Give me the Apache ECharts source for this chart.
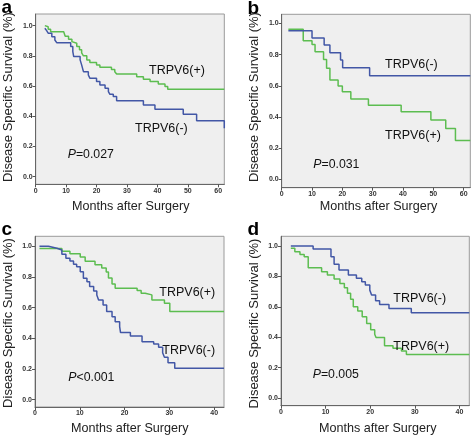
<!DOCTYPE html>
<html><head><meta charset="utf-8">
<script src="https://cdn.jsdelivr.net/npm/echarts@6/dist/echarts.min.js"></script>
<style>html,body{margin:0;padding:0;background:#fff}#c{width:472px;height:437px}</style>
</head><body><div id="c"></div>
<script>
// ---- data (Kaplan-Meier step points: time in months, survival) ----
const aPosTime = [3, 3.6, 4.1, 4.9, 9.2, 9.7, 10.8, 11.9, 12.4, 13.5, 14.4, 15.1, 15.7, 16.8, 17.8, 20, 21.1, 24.9, 26, 26.6, 33.2, 35.4, 37.6, 40.3, 42.5, 43.4, 62];
const aPosSurv = [1.0, 0.993, 0.976, 0.96, 0.95, 0.93, 0.91, 0.894, 0.883, 0.861, 0.84, 0.82, 0.80, 0.773, 0.755, 0.74, 0.724, 0.71, 0.695, 0.68, 0.662, 0.645, 0.63, 0.614, 0.596, 0.579, 0.579];
const aNegTime = [3, 3.6, 4.1, 5.3, 6.3, 6.9, 11.5, 12.2, 12.5, 14.6, 15.1, 15.7, 17.3, 17.8, 20, 21.1, 22.8, 23.9, 24.4, 25.5, 26.6, 35.4, 39.2, 48.5, 52.9, 62];
const aNegSurv = [0.983, 0.967, 0.95, 0.927, 0.905, 0.887, 0.861, 0.828, 0.795, 0.773, 0.74, 0.695, 0.673, 0.652, 0.63, 0.607, 0.585, 0.563, 0.545, 0.53, 0.503, 0.475, 0.446, 0.413, 0.37, 0.32];

const bNegTime = [2.2, 10, 14, 15.9, 19.4, 20.1, 29, 62.2];
const bNegSurv = [0.953, 0.906, 0.861, 0.812, 0.765, 0.716, 0.665, 0.665];
const bPosTime = [2.2, 7.1, 10, 11, 13.8, 14.8, 15.9, 18.6, 20, 22.8, 28.6, 39.4, 49.2, 54.1, 57.3, 62.2];
const bPosSurv = [0.962, 0.889, 0.865, 0.818, 0.769, 0.712, 0.637, 0.598, 0.562, 0.516, 0.476, 0.434, 0.38, 0.327, 0.25, 0.25];

const cPosTime = [1, 6, 7.8, 10.1, 11.2, 13.4, 14.9, 15.9, 16.4, 17.2, 17.9, 22.8, 23.7, 24.6, 26.1, 28.9, 30.1, 42.2];
const cPosSurv = [0.985, 0.967, 0.952, 0.93, 0.902, 0.88, 0.859, 0.833, 0.793, 0.754, 0.726, 0.711, 0.694, 0.683, 0.65, 0.628, 0.574, 0.574];
const cNegTime = [1, 3, 4.9, 6, 6.9, 7.8, 8.6, 9.3, 10.1, 10.8, 11.6, 12.2, 13.1, 13.8, 14.2, 15.2, 16, 17.2, 17.9, 18.9, 19.1, 21.3, 23.9, 26.5, 27.6, 28.5, 28.9, 29.7, 31.2, 42.2];
const cNegSurv = [1.0, 0.987, 0.976, 0.948, 0.922, 0.904, 0.883, 0.867, 0.834, 0.791, 0.769, 0.737, 0.709, 0.683, 0.65, 0.617, 0.574, 0.541, 0.508, 0.476, 0.437, 0.415, 0.378, 0.363, 0.341, 0.306, 0.276, 0.241, 0.205, 0.205];

const dNegTime = [2.2, 7.2, 11.2, 11.9, 13, 15.1, 16.9, 18.1, 18.9, 19.9, 20.3, 21.2, 22.1, 24.2, 29.2, 42.2];
const dNegSurv = [1.0, 0.98, 0.93, 0.88, 0.842, 0.809, 0.788, 0.765, 0.743, 0.71, 0.678, 0.64, 0.616, 0.59, 0.561, 0.561];
const dPosTime = [2.2, 3.1, 4.25, 5.2, 6.1, 9.1, 10.4, 11.9, 13.2, 14.2, 14.9, 15.6, 16.2, 17.2, 18.2, 19.2, 20.1, 21, 21.3, 23.2, 25.1, 27, 28.1, 42.2];
const dPosSurv = [0.985, 0.962, 0.945, 0.93, 0.857, 0.831, 0.809, 0.783, 0.754, 0.726, 0.689, 0.65, 0.601, 0.572, 0.535, 0.491, 0.45, 0.42, 0.398, 0.345, 0.328, 0.31, 0.287, 0.287];

const yTicks = [0, 0.2, 0.4, 0.6, 0.8, 1.0];
const xTicksLong = [0, 10, 20, 30, 40, 50, 60];
const xTicksShort = [0, 10, 20, 30, 40];

const panelLetters = ['a', 'b', 'c', 'd'];
const pValues = ['=0.027', '=0.031', '<0.001', '=0.005'];
const groupPos = 'TRPV6(+)';
const groupNeg = 'TRPV6(-)';
const yTitle = 'Disease Specific Survival (%)';
const xTitle = 'Months after Surgery';

// ---- layout ----
const FONT = 'Liberation Sans, Arial, sans-serif';
const GREEN = '#5cbd50';
const BLUE = '#4257a6';
const grids = [
  {left: 35.7, top: 14, width: 188.6, height: 170.3},
  {left: 281.7, top: 14.3, width: 188.6, height: 173.4},
  {left: 35, top: 236.3, width: 189, height: 170.7},
  {left: 281, top: 236.3, width: 188.3, height: 169.4}
];
const yRanges = [[-0.051, 1.077], [-0.053, 1.058], [-0.048, 1.065], [-0.05, 1.064]];
const xMax = [62, 62.2, 42.2, 42.2];
const xTickSets = [xTicksLong, xTicksLong, xTicksShort, xTicksShort];

const pairs = (t, s) => t.map((v, i) => [v, s[i]]);
const seriesData = [
  [pairs(aPosTime, aPosSurv), pairs(aNegTime, aNegSurv)],
  [pairs(bPosTime, bPosSurv), pairs(bNegTime, bNegSurv)],
  [pairs(cPosTime, cPosSurv), pairs(cNegTime, cNegSurv)],
  [pairs(dPosTime, dPosSurv), pairs(dNegTime, dNegSurv)]
];

const axisLabelStyle = {fontSize: 7, fontWeight: 'bold', color: '#333', fontFamily: FONT};

const option = {
  animation: false,
  backgroundColor: '#fff',
  grid: grids.map(g => Object.assign({show: true, backgroundColor: '#efefef', borderColor: '#9a9a9a', borderWidth: 1}, g)),
  xAxis: grids.map((g, i) => ({
    type: 'value', gridIndex: i, min: 0, max: xMax[i],
    axisLine: {show: true, onZero: false, lineStyle: {color: '#666', width: 1}},
    axisTick: {show: true, length: 3, lineStyle: {color: '#555'}, customValues: xTickSets[i]},
    axisLabel: Object.assign({margin: 3, customValues: xTickSets[i], formatter: v => String(v)}, axisLabelStyle),
    splitLine: {show: false}
  })),
  yAxis: grids.map((g, i) => ({
    type: 'value', gridIndex: i, min: yRanges[i][0], max: yRanges[i][1],
    axisLine: {show: true, onZero: false, lineStyle: {color: '#666', width: 1}},
    axisTick: {show: true, length: 3, lineStyle: {color: '#555'}, customValues: yTicks},
    axisLabel: Object.assign({margin: 3, customValues: yTicks, formatter: v => v.toFixed(1)}, axisLabelStyle),
    splitLine: {show: false}
  })),
  series: []
};
seriesData.forEach((pair, i) => {
  option.series.push({type: 'line', xAxisIndex: i, yAxisIndex: i, step: 'end', symbol: 'none', data: pair[0],
    lineStyle: {color: GREEN, width: 1.5}, z: 3});
  option.series.push({type: 'line', xAxisIndex: i, yAxisIndex: i, step: 'end', symbol: 'none', data: pair[1],
    lineStyle: {color: BLUE, width: 1.5}, z: 4});
});

// ---- text annotations ----
const txt = (x, y, text, extra) => ({type: 'text', x, y, z: 100,
  style: Object.assign({text, fill: '#111', fontFamily: FONT, fontSize: 12.5, align: 'left', verticalAlign: 'middle'}, extra || {})});
const rich = (x, y, p) => ({type: 'text', x, y, z: 100,
  style: {text: '{i|P}{n|' + p + '}', fontFamily: FONT, verticalAlign: 'middle', align: 'left',
    rich: {i: {fontSize: 12.3, fontStyle: 'italic', fill: '#111', fontFamily: FONT}, n: {fontSize: 12.3, fill: '#111', fontFamily: FONT}}}});

const labelPos = [
  {pos: [149, 71], neg: [135, 128.3], p: [67.7, 155]},
  {pos: [385, 136], neg: [385, 65], p: [313.3, 165]},
  {pos: [159.3, 293], neg: [162.3, 350.7], p: [68.3, 377.3]},
  {pos: [393.3, 346.3], neg: [393.3, 298.7], p: [312.7, 374.7]}
];
const letterPos = [[1.5, 8], [247.5, 8.5], [1.5, 229.5], [247.5, 229.5]];
const yTitlePos = [[8.8, 97], [254, 97], [8, 323], [254, 323.5]];
const xTitlePos = [[130.8, 206.7], [378.5, 206.7], [129.7, 428.7], [377.7, 428.7]];

const graphics = [];
for (let i = 0; i < 4; i++) {
  graphics.push(txt(labelPos[i].pos[0], labelPos[i].pos[1], groupPos));
  graphics.push(txt(labelPos[i].neg[0], labelPos[i].neg[1], groupNeg));
  graphics.push(rich(labelPos[i].p[0], labelPos[i].p[1], pValues[i]));
  graphics.push(txt(letterPos[i][0], letterPos[i][1], panelLetters[i], {fontSize: 19, fontWeight: 'bold', verticalAlign: 'middle', fill: '#000'}));
  graphics.push({type: 'text', x: yTitlePos[i][0], y: yTitlePos[i][1], rotation: Math.PI / 2, z: 100,
    style: {text: yTitle, fontFamily: FONT, fontSize: 13, fill: '#222', align: 'center', verticalAlign: 'middle'}});
  graphics.push(txt(xTitlePos[i][0], xTitlePos[i][1], xTitle, {fontSize: 12.6, align: 'center', fill: '#222'}));
}
option.graphic = graphics;

const chart = echarts.init(document.getElementById('c'), null, {renderer: 'canvas'});
chart.setOption(option);
</script>
</body></html>
